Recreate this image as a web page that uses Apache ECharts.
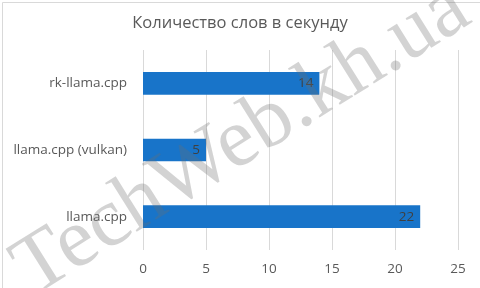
<!DOCTYPE html>
<html><head><meta charset="utf-8">
<script src="https://cdn.jsdelivr.net/npm/echarts@6/dist/echarts.min.js"></script>
<style>html,body{margin:0;padding:0;background:#fff}#c{width:480px;height:288px}</style>
</head><body><div id="c"></div>
<script>
var categories = ['llama.cpp', 'llama.cpp (vulkan)', 'rk-llama.cpp'];
var values = [22, 5, 14];
var titleText = 'Количество слов в секунду';
var watermark = 'TechWeb.kh.ua';

var chart = echarts.init(document.getElementById('c'), null, {renderer: 'canvas'});
chart.setOption({
  animation: false,
  backgroundColor: '#fff',
  title: {
    text: titleText, left: 'center', top: 10,
    textStyle: {fontFamily: 'Open Sans', fontSize: 16.5, fontWeight: 'normal', color: '#595959'}
  },
  grid: {left: 143, right: 22, top: 50, bottom: 38, containLabel: false},
  xAxis: {
    type: 'value', min: 0, max: 25, interval: 5,
    axisLine: {show: false}, axisTick: {show: false},
    splitLine: {lineStyle: {color: '#d9d9d9', width: 1}},
    axisLabel: {color: '#595959', fontFamily: 'Open Sans', fontSize: 13.5, margin: 12}
  },
  yAxis: {
    type: 'category', data: categories,
    axisLine: {show: false}, axisTick: {show: false},
    axisLabel: {color: '#595959', fontFamily: 'Open Sans', fontSize: 13.5, margin: 16}
  },
  series: [{
    type: 'bar', data: values, barWidth: '34%',
    itemStyle: {color: '#1874c9'},
    label: {show: true, position: 'insideRight', color: '#404040', fontFamily: 'Open Sans', fontSize: 13.5, distance: 6}
  }],
  graphic: [
    {type: 'rect', left: 0, top: 0, z: 100, silent: true,
     shape: {x: 0.5, y: 0.5, width: 479, height: 287},
     style: {fill: 'none', stroke: '#d9d9d9', lineWidth: 1}},
    {type: 'text', x: 242, y: 140, rotation: 32 * Math.PI / 180, z: 100, silent: true,
     style: {text: watermark, fontFamily: 'Liberation Serif', fontSize: 84,
             fill: 'rgba(110,110,110,0.3)', align: 'center', verticalAlign: 'middle'}}
  ]
});
</script></body></html>
